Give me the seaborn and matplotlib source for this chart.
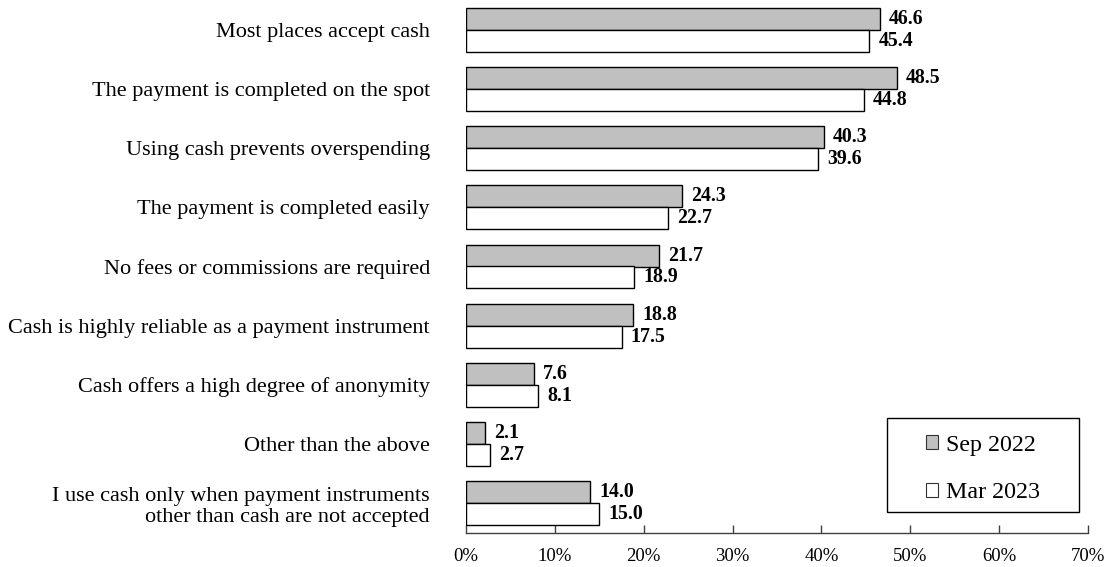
import matplotlib
matplotlib.use("Agg")
import matplotlib.pyplot as plt
from matplotlib.patches import Patch, Rectangle
import seaborn as sns
import pandas as pd

# Reasons for using cash, share of respondents (%)
reasons = [
    "Most places accept cash",
    "The payment is completed on the spot",
    "Using cash prevents overspending",
    "The payment is completed easily",
    "No fees or commissions are required",
    "Cash is highly reliable as a payment instrument",
    "Cash offers a high degree of anonymity",
    "Other than the above",
    "I use cash only when payment instruments\nother than cash are not accepted",
]
sep_2022 = [46.6, 48.5, 40.3, 24.3, 21.7, 18.8, 7.6, 2.1, 14.0]
mar_2023 = [45.4, 44.8, 39.6, 22.7, 18.9, 17.5, 8.1, 2.7, 15.0]
survey_labels = ["Sep 2022", "Mar 2023"]
x_ticks = [0, 10, 20, 30, 40, 50, 60, 70]

df = pd.DataFrame({
    "reason": reasons * 2,
    "share": sep_2022 + mar_2023,
    "survey": [survey_labels[0]] * len(reasons) + [survey_labels[1]] * len(reasons),
})

sns.set_style("white")
plt.rcParams["font.family"] = ["Liberation Serif", "DejaVu Serif"]
plt.rcParams["text.color"] = "black"
plt.rcParams["xtick.color"] = "black"
plt.rcParams["ytick.color"] = "black"

W, H = 1110, 567
fig = plt.figure(figsize=(W / 100, H / 100), dpi=100)
ax = fig.add_axes([466 / W, (H - 533) / H, 622 / W, 533 / H])

colors = {"Sep 2022": "#c0c0c0", "Mar 2023": "#ffffff"}
sns.barplot(
    data=df, y="reason", x="share", hue="survey", orient="h",
    order=reasons, hue_order=survey_labels, palette=colors,
    width=0.74, gap=0, edgecolor="black", linewidth=1.0,
    errorbar=None, legend=False, ax=ax, saturation=1,
)

for cont in ax.containers:
    ax.bar_label(cont, fmt="%.1f", padding=6.5, fontsize=14.3, fontweight="bold")

ax.set_xlim(0, 70)
ax.set_ylim(len(reasons) - 0.5, -0.5)
ax.set_xticks(x_ticks)
ax.set_xticklabels([f"{t}%" for t in x_ticks])
ax.set_xlabel("")
ax.set_ylabel("")
ax.tick_params(axis="x", direction="in", length=6, width=1, color="#404040",
               labelsize=13.5, pad=11, bottom=True)
ax.tick_params(axis="y", length=0, labelsize=16, pad=26)
for lbl in ax.get_yticklabels():
    lbl.set_horizontalalignment("right")
    lbl.set_linespacing(1.15)

for side in ["top", "right", "left"]:
    ax.spines[side].set_visible(False)
ax.spines["bottom"].set_color("#404040")
ax.spines["bottom"].set_linewidth(1)

# Legend frame drawn as a plain box, legend entries centred inside it
box_x0, box_x1, box_top, box_bot = 887, 1079, 418, 512
frame = Rectangle((box_x0 / W, (H - box_bot) / H), (box_x1 - box_x0) / W,
                  (box_bot - box_top) / H, transform=fig.transFigure,
                  facecolor="white", edgecolor="black", linewidth=1,
                  clip_on=False, zorder=4)
ax.add_patch(frame)

handles = [Patch(facecolor=colors[s], edgecolor="#333333", linewidth=0.8) for s in survey_labels]
leg = ax.legend(
    handles, survey_labels, loc="center",
    bbox_to_anchor=((box_x0 + box_x1) / 2 / W, (H - (box_top + box_bot) / 2 - 4) / H),
    bbox_transform=fig.transFigure, borderaxespad=0, borderpad=0,
    fontsize=17.3, frameon=False, handlelength=0.5, handleheight=0.5,
    handletextpad=0.3, labelspacing=1.12,
)
leg.set_zorder(5)

fig.savefig("out.png", dpi=100)
